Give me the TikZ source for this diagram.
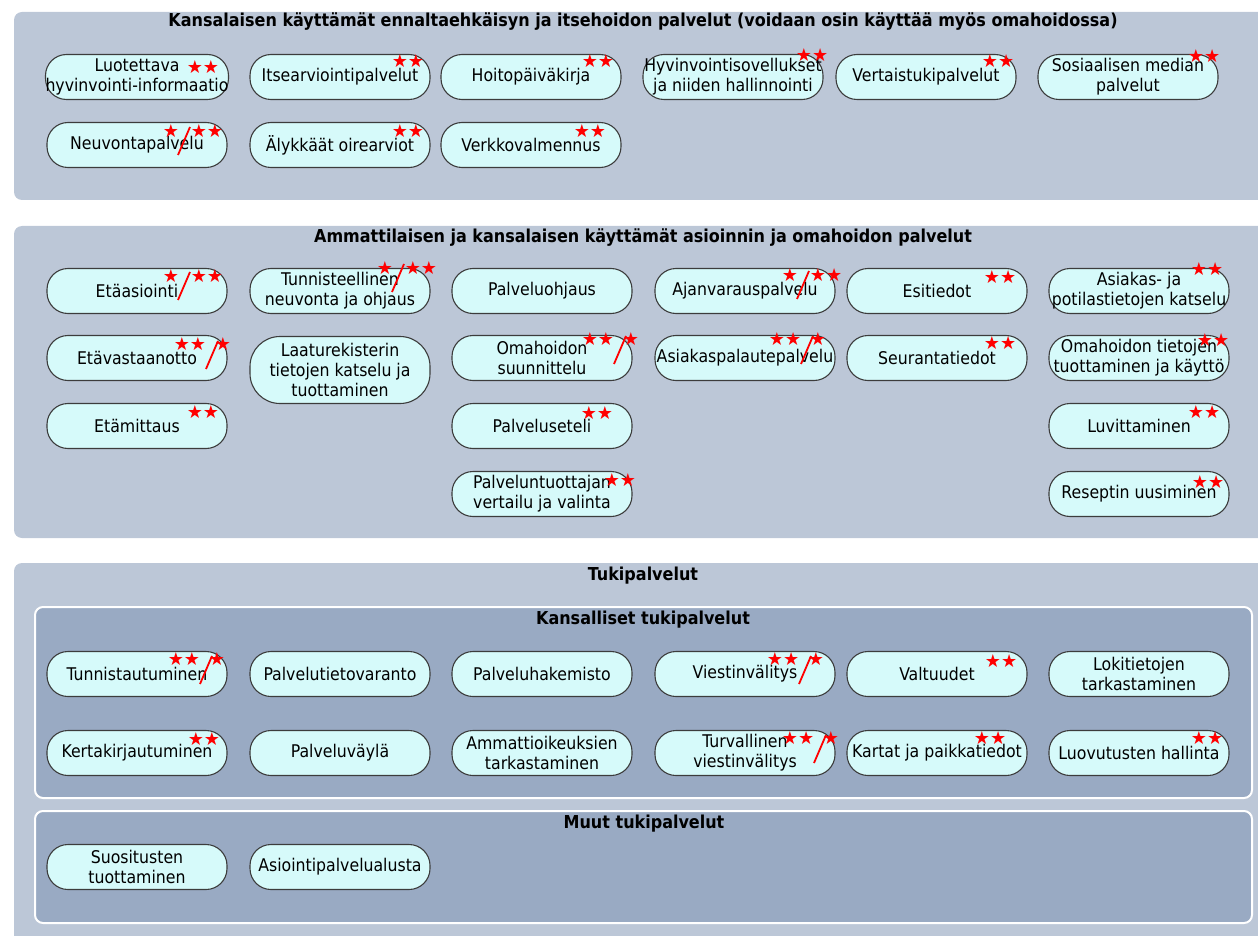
\documentclass[tikz,border=0pt]{standalone}
\usepackage{fontspec}
\setmainfont{DejaVu Sans Condensed}
\newfontfamily\starfont{DejaVu Sans}

\definecolor{panelbg}{HTML}{BCC7D7}
\definecolor{subpanelbg}{HTML}{99AAC3}
\definecolor{svcfill}{HTML}{D6FAFA}
\definecolor{svcline}{HTML}{3C3C3C}

\tikzset{
  panel/.style={fill=panelbg, rounded corners=8},
  subpanel/.style={fill=subpanelbg, draw=white, line width=2, rounded corners=8},
  paneltitle/.style={font=\bfseries\fontsize{17.8}{20}\selectfont, inner sep=0},
  svc/.style={draw=svcline, line width=1.1, fill=svcfill, rounded corners=21,
    minimum width=180, minimum height=45, inner xsep=0, inner ysep=0,
    align=center, font=\fontsize{17.5}{20}\selectfont},
  starmark/.style={text=red, inner sep=0, font=\starfont\fontsize{18}{18}\selectfont},
  slash/.style={red, line width=1.8}
}

% ** mark
\newcommand{\twostars}[3]{\node[starmark] (#1-two) at ([shift={(#2,#3)}]#1.center) {★★};}
% */** mark
\newcommand{\onetwo}[3]{%
  \coordinate (#1-slash) at ([shift={(#2,#3)}]#1.center);
  \draw[slash] ([shift={(-6,14)}]#1-slash) -- ([shift={(6,-14)}]#1-slash);
  \node[starmark] (#1-one) at ([shift={(-13,-10)}]#1-slash) {★};
  \node[starmark] (#1-two) at ([shift={(23,-10)}]#1-slash) {★★};}
% **/* mark
\newcommand{\twoone}[3]{%
  \coordinate (#1-slash) at ([shift={(#2,#3)}]#1.center);
  \draw[slash] ([shift={(-6,14)}]#1-slash) -- ([shift={(6,-14)}]#1-slash);
  \node[starmark] (#1-two) at ([shift={(-22,-11)}]#1-slash) {★★};
  \node[starmark] (#1-one) at ([shift={(11,-11)}]#1-slash) {★};}

\begin{document}
\begin{tikzpicture}[x=1pt, y=-1pt]
  \useasboundingbox (0,0) rectangle (1258,936);

  % Panels
  \path[panel] (14,12) rectangle (1275,200);
  \path[panel] (14,226) rectangle (1275,538);
  \path[panel] (14,563) rectangle (1275,960);
  \draw[subpanel] (35,607) rectangle (1252,798);
  \draw[subpanel] (35,811) rectangle (1252,923);

  \node[paneltitle] (t1) at (643,22) {Kansalaisen käyttämät ennaltaehkäisyn ja itsehoidon palvelut (voidaan osin käyttää myös omahoidossa)};
  \node[paneltitle] (t2) at (643,238) {Ammattilaisen ja kansalaisen käyttämät asioinnin ja omahoidon palvelut};
  \node[paneltitle] (t3) at (643,576) {Tukipalvelut};
  \node[paneltitle] (t4) at (643,620) {Kansalliset tukipalvelut};
  \node[paneltitle] (t5) at (644,824) {Muut tukipalvelut};

  % Kansalaisen palvelut
  \node[svc] (luotettava) at (137,77) {Luotettava\\hyvinvointi-informaatio};
  \node[svc] (itsearvio) at (340,77) {Itsearviointipalvelut};
  \node[svc] (hoitopk) at (531,77) {Hoitopäiväkirja};
  \node[svc] (hyvsov) at (733,77) {Hyvinvointisovellukset\\ja niiden hallinnointi};
  \node[svc] (vertais) at (926,77) {Vertaistukipalvelut};
  \node[svc] (somepalv) at (1128,77) {Sosiaalisen median\\palvelut};
  \node[svc] (neuvonta) at (137,145) {Neuvontapalvelu};
  \node[svc] (oirearv) at (340,145) {Älykkäät oirearviot};
  \node[svc] (verkkoval) at (531,145) {Verkkovalmennus};

  % Ammattilaisen ja kansalaisen palvelut
  \node[svc] (etaasiointi) at (137,291) {Etäasiointi};
  \node[svc] (tunnisteel) at (340,291) {Tunnisteellinen\\neuvonta ja ohjaus};
  \node[svc] (palveluohj) at (542,291) {Palveluohjaus};
  \node[svc] (ajanvaraus) at (745,291) {Ajanvarauspalvelu};
  \node[svc] (esitiedot) at (937,291) {Esitiedot};
  \node[svc] (asiakastied) at (1139,291) {Asiakas- ja\\potilastietojen katselu};
  \node[svc] (etavastaanotto) at (137,358) {Etävastaanotto};
  \node[svc, minimum height=67, rounded corners=30] (laatu) at (340,370) {Laaturekisterin\\tietojen katselu ja\\tuottaminen};
  \node[svc] (omahoitosuun) at (542,358) {Omahoidon\\suunnittelu};
  \node[svc] (palaute) at (745,358) {Asiakaspalautepalvelu};
  \node[svc] (seuranta) at (937,358) {Seurantatiedot};
  \node[svc] (omahoitotied) at (1139,358) {Omahoidon tietojen\\tuottaminen ja käyttö};
  \node[svc] (etamittaus) at (137,426) {Etämittaus};
  \node[svc] (palveluseteli) at (542,426) {Palveluseteli};
  \node[svc] (luvitus) at (1139,426) {Luvittaminen};
  \node[svc] (tuottajavalinta) at (542,494) {Palveluntuottajan\\vertailu ja valinta};
  \node[svc] (resepti) at (1139,494) {Reseptin uusiminen};

  % Kansalliset tukipalvelut
  \node[svc] (tunnistautuminen) at (137,674) {Tunnistautuminen};
  \node[svc] (palvelutieto) at (340,674) {Palvelutietovaranto};
  \node[svc] (palveluhak) at (542,674) {Palveluhakemisto};
  \node[svc] (viestinv) at (745,674) {Viestinvälitys};
  \node[svc] (valtuudet) at (937,674) {Valtuudet};
  \node[svc] (lokitied) at (1139,674) {Lokitietojen\\tarkastaminen};
  \node[svc] (kertakirj) at (137,753) {Kertakirjautuminen};
  \node[svc] (palveluvayla) at (340,753) {Palveluväylä};
  \node[svc] (ammattioik) at (542,753) {Ammattioikeuksien\\tarkastaminen};
  \node[svc] (turvviesti) at (745,753) {Turvallinen\\viestinvälitys};
  \node[svc] (kartat) at (937,753) {Kartat ja paikkatiedot};
  \node[svc] (luovutus) at (1139,753) {Luovutusten hallinta};

  % Muut tukipalvelut
  \node[svc] (suositus) at (137,867) {Suositusten\\tuottaminen};
  \node[svc] (asiointialusta) at (340,867) {Asiointipalvelualusta};

  % Tähtimerkinnät
  \twostars{luotettava}{66}{-10}
  \twostars{itsearvio}{68}{-16}
  \twostars{hoitopk}{67}{-16}
  \twostars{hyvsov}{79}{-22}
  \twostars{vertais}{72}{-16}
  \twostars{somepalv}{76}{-21}
  \onetwo{neuvonta}{47}{-4}
  \twostars{oirearv}{68}{-14}
  \twostars{verkkoval}{59}{-14}

  \onetwo{etaasiointi}{47}{-5}
  \onetwo{tunnisteel}{58}{-13}
  \onetwo{ajanvaraus}{58}{-6}
  \twostars{esitiedot}{63}{-14}
  \twostars{asiakastied}{68}{-22}
  \twoone{etavastaanotto}{75}{-3}
  \twoone{omahoitosuun}{78}{-8}
  \twoone{palaute}{62}{-8}
  \twostars{seuranta}{63}{-15}
  \twostars{omahoitotied}{74}{-18}
  \twostars{etamittaus}{66}{-14}
  \twostars{palveluseteli}{55}{-13}
  \twostars{luvitus}{65}{-14}
  \twostars{tuottajavalinta}{78}{-14}
  \twostars{resepti}{69}{-12}

  \twoone{tunnistautuminen}{69}{-4}
  \twoone{viestinv}{60}{-4}
  \twostars{valtuudet}{64}{-13}
  \twostars{kertakirj}{67}{-14}
  \twoone{turvviesti}{75}{-4}
  \twostars{kartat}{53}{-15}
  \twostars{luovutus}{68}{-15}
\end{tikzpicture}
\end{document}
